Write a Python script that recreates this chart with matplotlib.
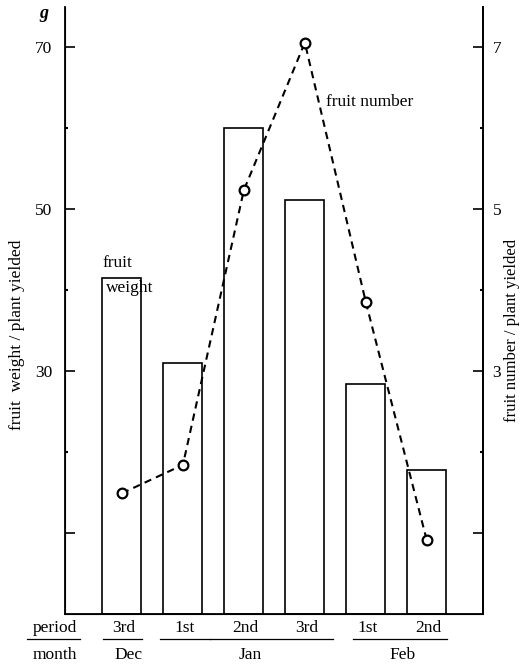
import matplotlib.pyplot as plt
import matplotlib.transforms as mtransforms
import numpy as np

# ==========================
# Data
# ==========================

periods = ["3rd", "1st", "2nd", "3rd", "1st", "2nd"]
months = ["Dec", "Jan", "Feb"]
month_span = [(0, 0), (1, 3), (4, 5)]
fruit_weight = [41.4, 31.0, 60.0, 51.1, 28.4, 17.8]
fruit_number = [1.49, 1.84, 5.23, 7.05, 3.85, 0.91]

plt.rcParams["font.family"] = ["Liberation Serif", "DejaVu Serif"]
plt.rcParams["font.size"] = 12.5

# ==========================
# Figure
# ==========================

fig = plt.figure(figsize=(5.22, 6.65), dpi=100)
ax = fig.add_axes([0.1245, 0.0767, 0.8005, 0.9128])
x = np.arange(len(periods))

ax.bar(x, fruit_weight, width=0.64, facecolor="white", edgecolor="black", linewidth=1.2)
ax.set_xlim(-0.934, 5.92)
ax.set_ylim(0, 74.9)

ax.spines["top"].set_visible(False)
for s in ["left", "right", "bottom"]:
    ax.spines[s].set_linewidth(1.3)

ax.set_yticks([10, 30, 50, 70])
ax.set_yticklabels(["", "30", "50", "70"])
ax.set_yticks([20, 40, 60], minor=True)
ax.tick_params(axis="y", which="major", direction="in", length=7, width=1.2, pad=9)
ax.tick_params(axis="y", which="minor", direction="in", length=2.5, width=1.5)
ax.set_xticks([])

ax2 = ax.twinx()
ax2.plot(x, fruit_number, "--", color="black", linewidth=1.5, dashes=(3.5, 2.5),
         marker="o", markersize=7, markerfacecolor="white", markeredgewidth=1.6)
ax2.set_ylim(0, 7.49)
ax2.spines["top"].set_visible(False)
ax2.spines["right"].set_linewidth(1.3)
ax2.set_yticks([1, 3, 5, 7])
ax2.set_yticklabels(["", "3", "5", "7"])
ax2.set_yticks([2, 4, 6], minor=True)
ax2.tick_params(axis="y", which="major", direction="in", length=7, width=1.2, pad=7)
ax2.tick_params(axis="y", which="minor", direction="in", length=2.5, width=1.5)

# axis titles
fig.text(17 / 522, 1 - 335 / 665, "fruit  weight / plant yielded", rotation=90,
         ha="center", va="center")
fig.text(512 / 522, 1 - 330 / 665, "fruit number / plant yielded", rotation=90,
         ha="center", va="center", fontsize=12)
fig.text(44 / 522, 1 - 14 / 665, "g", ha="center", va="center",
         style="italic", fontweight="bold", fontsize=13)

# ==========================
# Annotations
# ==========================

ax.text(-0.07, 43.3, "fruit", ha="center", va="center")
ax.text(0.13, 40.2, "weight", ha="center", va="center")
ax.text(4.07, 63.2, "fruit number", ha="center", va="center")

# period / month rows below the axis
trans = mtransforms.blended_transform_factory(ax.transData, ax.transAxes)
ax.text(-1.1, -0.010, "period", transform=trans, ha="center", va="top")
ax.text(-1.1, -0.055, "month", transform=trans, ha="center", va="top")
ax.plot([-1.56, -0.69], [-0.042, -0.042], transform=trans, color="black", lw=0.9, clip_on=False)
for i, p in enumerate(periods):
    ax.text(i + 0.03, -0.010, p, transform=trans, ha="center", va="top")
underlines = [(-0.31, 0.33), (0.62, 1.44), (1.44, 3.46), (3.79, 5.34)]
for a, b in underlines:
    ax.plot([a, b], [-0.042, -0.042], transform=trans, color="black", lw=0.9, clip_on=False)
for m, (a, b) in zip(months, month_span):
    ax.text((a + b) / 2 + 0.1, -0.055, m, transform=trans, ha="center", va="top")

fig.savefig("out.png", dpi=100)
